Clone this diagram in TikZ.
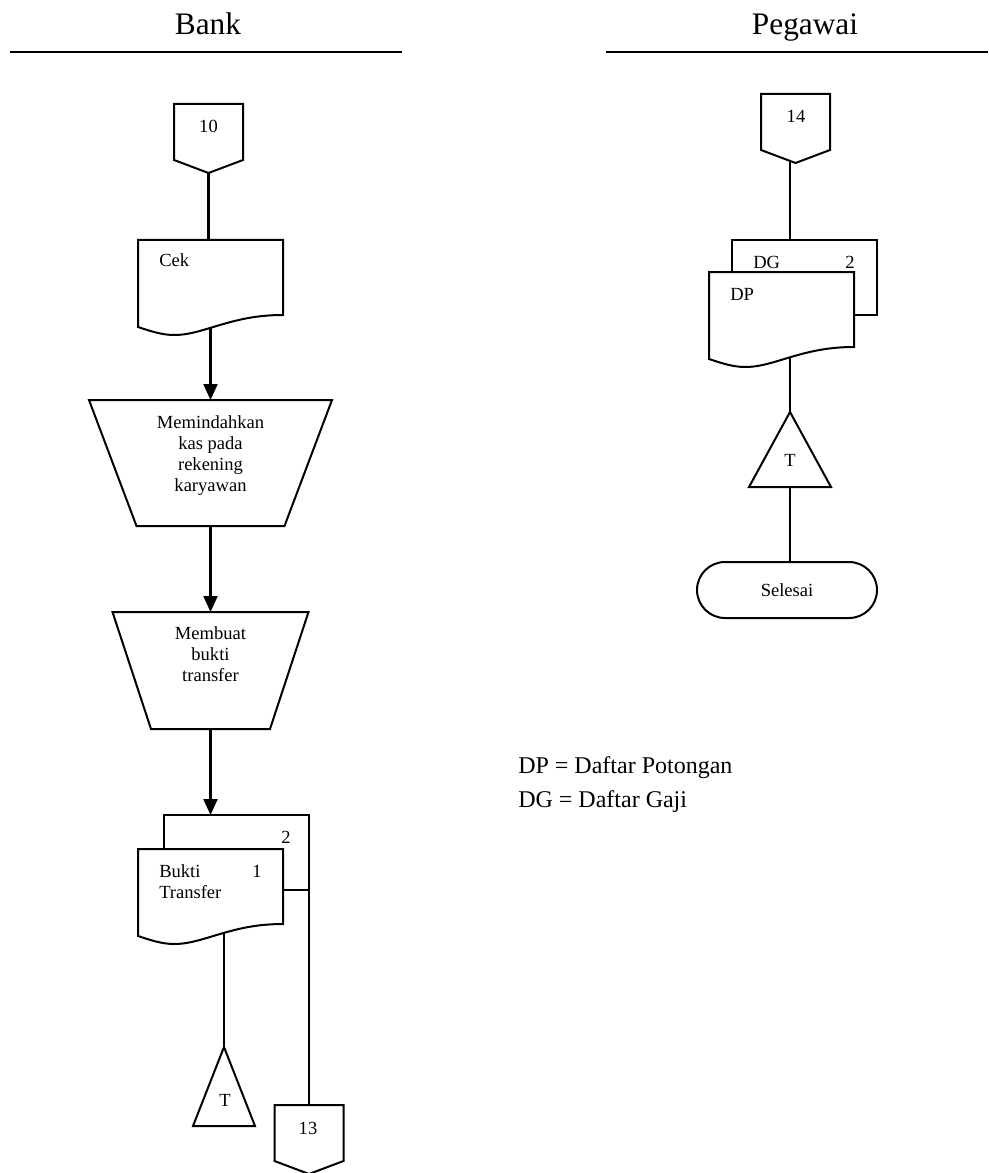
\documentclass[tikz,border=0pt]{standalone}
\usepackage{fontspec}
\setmainfont{Liberation Serif}
\usetikzlibrary{calc,arrows.meta}
\pgfdeclarelayer{bg}
\pgfsetlayers{bg,main}
\newcommand\docoutline[1]{%
 \draw[shp] (#1.north west) -- (#1.north east) -- (#1.south east)
   .. controls ($(#1.south west)+(115,0)$) and ($(#1.south west)+(95,6)$) .. ($(#1.south west)+(72,13)$)
   .. controls ($(#1.south west)+(55,18.2)$) and ($(#1.south west)+(46,20)$) .. ($(#1.south west)+(36,20)$)
   .. controls ($(#1.south west)+(24,20)$) and ($(#1.south west)+(12,16)$) .. ($(#1.south west)+(0,12)$)
   -- cycle;}
\newcommand\connoutline[1]{%
 \draw[shp] (#1.north west) -- (#1.north east) -- (#1.south east) -- ($(#1.south)+(0,13)$) -- (#1.south west) -- cycle;}
\newcommand\trapoutline[2]{%
 \draw[shp] (#1.north west) -- (#1.north east) -- ($(#1.south east)+(-#2,0)$) -- ($(#1.south west)+(#2,0)$) -- cycle;}
\newcommand\trioutline[1]{%
 \draw[shp] (#1.north) -- (#1.south east) -- (#1.south west) -- cycle;}
\begin{document}
\begin{tikzpicture}[x=0.75pt,y=-0.75pt,
  shp/.style={draw=black, line width=1.5pt, fill=white, line join=miter},
  ln/.style={line width=1.6pt},
  arr/.style={ln, -{Triangle[length=12pt,width=10.5pt]}},
  bx/.style={inner sep=0pt, outer sep=0pt},
  docbox/.style={bx, minimum width=108.75pt, minimum height=56.25pt},
  connbox/.style={bx, minimum width=51.75pt, minimum height=42pt},
  txt/.style={font=\fontsize{13.9}{15.8}\selectfont, inner sep=0pt},
  lg/.style={font=\fontsize{18}{21}\selectfont, inner sep=0pt},
  ttl/.style={font=\fontsize{23.5}{28}\selectfont, inner sep=0pt}]
\useasboundingbox (0,0) rectangle (988,1173);

% titles
\node[ttl, anchor=base] (tbank) at (208,35) {Bank};
\node[ttl, anchor=base] (tpeg) at (805,35) {Pegawai};
\draw[line width=1.4pt] (10,52) -- (402,52);
\draw[line width=1.4pt] (606,52) -- (988,52);

% Bank column shapes
\node[connbox] (c10) at (208.5,132) {};
\connoutline{c10}
\node[docbox] (cek) at (210.5,277.5) {};
\docoutline{cek}
\node[bx, minimum width=182.25pt, minimum height=94.5pt] (p1) at (210.5,463) {};
\trapoutline{p1}{47.5}
\node[bx, minimum width=147pt, minimum height=87.75pt] (p2) at (210.5,670.5) {};
\trapoutline{p2}{38.5}
\node[docbox, draw, line width=1.5pt, fill=white] (bkb) at (236.5,852.5) {};
\node[docbox] (bk) at (210.5,886.5) {};
\docoutline{bk}
\node[bx, minimum width=46.5pt, minimum height=59.25pt] (t1) at (224,1086.5) {};
\trioutline{t1}
\node[connbox] (c13) at (309,1133) {};
\connoutline{c13}

% Pegawai column shapes
\node[connbox] (c14) at (795.5,122) {};
\connoutline{c14}
\node[docbox, draw, line width=1.5pt, fill=white] (dgb) at (804.5,277.5) {};
\node[docbox] (dp) at (781.5,309.5) {};
\docoutline{dp}
\node[bx, minimum width=61.5pt, minimum height=56.25pt] (t2) at (790,449.5) {};
\trioutline{t2}
\node[bx, draw, line width=1.5pt, fill=white, rounded corners=21pt, minimum width=135pt, minimum height=42pt, txt] (term) at (787,590) {Selesai};

% connectors
\begin{pgfonlayer}{bg}
\draw[ln] (c10.center) -- (c10.center |- cek.center);
\draw[arr] (cek.center) -- (p1.north);
\draw[arr] (p1.south) -- (p2.north);
\draw[arr] (p2.south) -- (p2.south |- bkb.north);
\draw[ln] (t1.north |- bk.center) -- (t1.north);
\draw[ln] (bkb.south east) -- (c13.north);
\draw[ln] (t2.north |- c14.center) -- (t2.north |- dgb.center);
\draw[ln] (t2.north |- dp.center) -- (t2.north);
\draw[ln] (t2.south) -- (t2.south |- term.north);
\end{pgfonlayer}

% texts
\node[txt] (l10) at (208.5,126) {10};
\node[txt, anchor=base west] (lcek) at (159,267) {Cek};
\node[txt, align=center, anchor=north] (lp1) at (210.5,415.3) {Memindahkan\\kas pada\\rekening\\karyawan};
\node[txt, align=center, anchor=north] (lp2) at (210.5,626.3) {Membuat\\bukti\\transfer};
\node[txt, anchor=base] (lbk2) at (286,843) {2};
\node[txt, align=left, anchor=north west] (lbk) at (159,864.3) {Bukti\\Transfer};
\node[txt, anchor=base] (lbk1) at (257,877) {1};
\node[txt, anchor=base] (lt1) at (225,1106) {T};
\node[txt] (l13) at (308,1128) {13};
\node[txt] (l14) at (796,116) {14};
\node[txt, anchor=base west] (ldg) at (753,268) {DG};
\node[txt, anchor=base] (ldg2) at (850,268) {2};
\node[txt, anchor=base west] (ldp) at (730,300) {DP};
\node[txt, anchor=base] (lt2) at (790,466) {T};
\node[lg, anchor=base west] (leg1) at (518,773) {DP = Daftar Potongan};
\node[lg, anchor=base west] (leg2) at (518,807) {DG = Daftar Gaji};
\end{tikzpicture}
\end{document}
